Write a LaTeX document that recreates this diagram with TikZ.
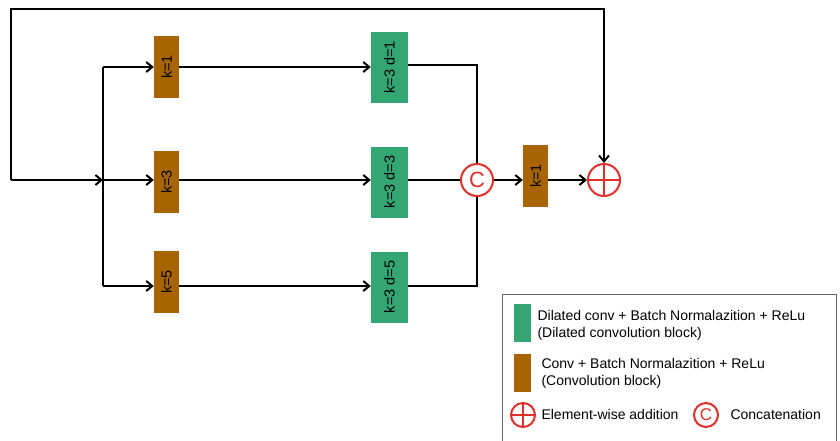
\documentclass[tikz,border=0pt]{standalone}
\usepackage{fontspec}
\setmainfont{Liberation Sans}
\usetikzlibrary{arrows.meta,calc}
\definecolor{convbrown}{RGB}{168,100,0}
\definecolor{dilgreen}{RGB}{51,166,115}
\definecolor{opred}{RGB}{224,48,42}
\tikzset{
  conn/.style={line width=2pt, draw=black},
  arr/.style={conn, -{Straight Barb[length=6pt,width=10pt,line width=2pt]}},
  convbox/.style={fill=convbrown, draw=none, minimum width=25pt, minimum height=62pt, inner sep=0pt},
  dilbox/.style={fill=dilgreen, draw=none, minimum width=37pt, minimum height=71pt, inner sep=0pt},
  boxlabel/.style={rotate=90, font=\fontsize{14.5}{16}\selectfont},
  catop/.style={circle, draw=opred, line width=2pt, fill=white, minimum size=32pt, inner sep=0pt, text=opred, font=\fontsize{22}{22}\selectfont},
  addop/.style={circle, draw=opred, line width=2pt, fill=white, minimum size=32pt, inner sep=0pt},
  legtext/.style={anchor=west, align=left, font=\fontsize{14}{17}\selectfont},
}
\begin{document}
\begin{tikzpicture}[x=1pt,y=-1pt]
\useasboundingbox (0,0) rectangle (840,440);

% convolution branches
\node[convbox] (b1) at (166.5,67) {}; \node[boxlabel] at (b1) {k=1};
\node[convbox] (b3) at (166.5,182) {}; \node[boxlabel] at (b3) {k=3};
\node[convbox] (b5) at (166.5,282) {}; \node[boxlabel] at (b5) {k=5};

% dilated convolution blocks
\node[dilbox] (g1) at (389.5,67.5) {}; \node[boxlabel] at (g1) {k=3 d=1};
\node[dilbox] (g3) at (389.5,182) {}; \node[boxlabel] at (g3) {k=3 d=3};
\node[dilbox] (g5) at (389.5,287) {}; \node[boxlabel] at (g5) {k=3 d=5};

% concatenation, fusion conv and addition
\node[catop] (cat) at (477,180) {C};
\node[convbox] (fuse) at (535.5,176) {}; \node[boxlabel] at (fuse) {k=1};
\node[addop] (add) at (604,180) {};
\draw[opred, line width=2pt] (add.north) -- (add.south) (add.west) -- (add.east);

% input and split point
\coordinate (in) at (11,180);
\coordinate (split) at (103,180);
\coordinate (sTop) at (103,67);
\coordinate (sBot) at (103,286);

\draw[arr] (in) -- (split);
\draw[conn] (sTop) -- (sBot);
\draw[arr] (sTop) -- (sTop -| b1.west);
\draw[arr] (split) -- (split -| b3.west);
\draw[arr] (sBot) -- (sBot -| b5.west);

\draw[arr] (sTop -| b1.east) -- (sTop -| g1.west);
\draw[arr] (split -| b3.east) -- (split -| g3.west);
\draw[arr] (sBot -| b5.east) -- (sBot -| g5.west);

\coordinate (gTop) at (408,65);
\draw[conn] (gTop) -| (cat.north);
\draw[conn] (split -| g3.east) -- (cat.west);
\draw[conn] (sBot -| g5.east) -| (cat.south);

\draw[arr] (cat.east) -- (cat.east -| fuse.west);
\draw[arr] (cat.east -| fuse.east) -- (add.west);

% residual path
\coordinate (topL) at (11,9);
\draw[arr] (in) -- (topL) -| (add.north);

% legend
\draw[line width=1pt, draw=black!60] (502,294) rectangle (836,441);
\node[fill=dilgreen, minimum width=17pt, minimum height=38pt, inner sep=0pt] (lg) at (522.5,323) {};
\node[legtext] at (534,325) {Dilated conv + Batch Normalazition + ReLu\\(Dilated convolution block)};
\node[fill=convbrown, minimum width=17pt, minimum height=38pt, inner sep=0pt] (lb) at (522.5,373) {};
\node[legtext] at (538,373) {Conv + Batch Normalazition + ReLu\\(Convolution block)};
\node[addop, minimum size=24pt] (ladd) at (523,415) {};
\draw[opred, line width=2pt] (ladd.north) -- (ladd.south) (ladd.west) -- (ladd.east);
\node[legtext] at (538,414) {Element-wise addition};
\node[catop, minimum size=24pt, font=\fontsize{17}{17}\selectfont] (lcat) at (706,415) {C};
\node[legtext] at (727,414) {Concatenation};
\end{tikzpicture}
\end{document}
